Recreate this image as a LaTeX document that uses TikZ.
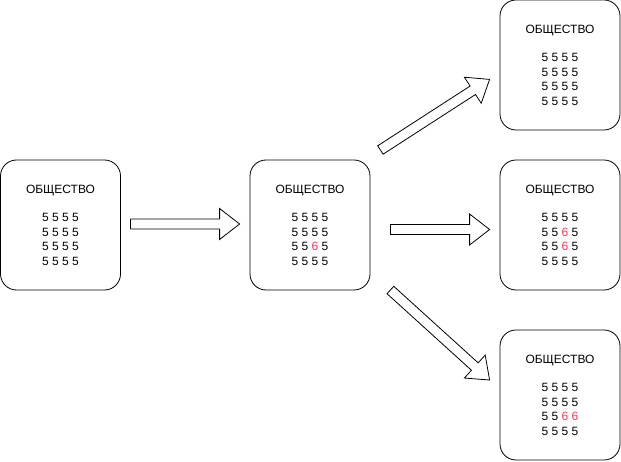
\documentclass[tikz,border=0pt]{standalone}
\usepackage{fontspec}
\setmainfont{Liberation Sans}
\usepackage{xcolor}
\usetikzlibrary{positioning,calc}
\definecolor{changed}{RGB}{255,51,85}
\newcommand{\six}{\textcolor{changed}{6}}
\newcommand{\fatarrow}[2]{%
  \draw[fat]
    ($(#1)!5pt!90:(#2)$) --
    ($($(#2)!20pt!(#1)$)!5pt!-90:(#1)$) --
    ($($(#2)!20pt!(#1)$)!15.5pt!-90:(#1)$) -- (#2) --
    ($($(#2)!20pt!(#1)$)!15.5pt!90:(#1)$) --
    ($($(#2)!20pt!(#1)$)!5pt!90:(#1)$) --
    ($(#1)!5pt!-90:(#2)$) -- cycle;}
\tikzset{
  society/.style={draw, rounded corners=16pt, minimum width=120pt, minimum height=130pt,
    align=center, font=\fontsize{12}{14.4}\selectfont, line width=0.8pt},
  fat/.style={draw, fill=white, line width=0.8pt, line join=miter}
}
\begin{document}
\begin{tikzpicture}[x=1pt,y=1pt,node distance=250pt,on grid]
  \useasboundingbox (0,0) rectangle (621,461);
   \node[society] (s0) at (60.5,236) {ОБЩЕСТВО\\[14.4pt]5 5 5 5\\5 5 5 5\\5 5 5 5\\5 5 5 5};
   \node[society] (s1) [right =249.5pt of s0] {ОБЩЕСТВО\\[14.4pt]5 5 5 5\\5 5 5 5\\5 5 \six{} 5\\5 5 5 5};
   \node[society] (s2) [right =of s1] {ОБЩЕСТВО\\[14.4pt]5 5 5 5\\5 5 \six{} 5\\5 5 \six{} 5\\5 5 5 5};
   \node[society] (s3) [above =160pt of s2] {ОБЩЕСТВО\\[14.4pt]5 5 5 5\\5 5 5 5\\5 5 5 5\\5 5 5 5};
   \node[society] (s4) [below =170pt of s2] {ОБЩЕСТВО\\[14.4pt]5 5 5 5\\5 5 5 5\\5 5 \six{} \six\\5 5 5 5};
   % ends of the fat arrows
   \coordinate (a0) at ($(s0.east)+(9.5,1)$);
   \coordinate (b0) at ($(s1.west)+(-10,1)$);
   \coordinate (a1) at ($(s1.east)+(20,-4.5)$);
   \coordinate (b1) at ($(s2.west)+(-10,-4.5)$);
   \coordinate (a2) at ($(s1.east)+(10,75)$);
   \coordinate (b2) at ($(s3.south west)+(-10,51)$);
   \coordinate (a3) at ($(s1.east)+(20,-65)$);
   \coordinate (b3) at ($(s4.west)+(-10,15)$);
   \fatarrow{a0}{b0}
   \fatarrow{a1}{b1}
   \fatarrow{a2}{b2}
   \fatarrow{a3}{b3}
\end{tikzpicture}
\end{document}
